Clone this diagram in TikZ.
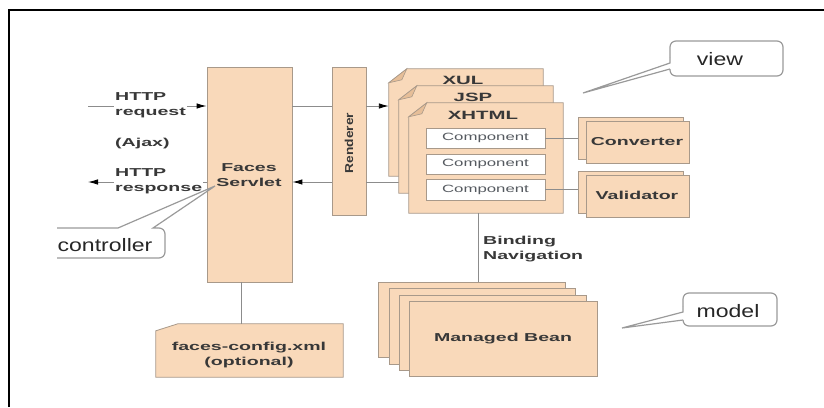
\documentclass[tikz,border=0pt]{standalone}
\usepackage{fontspec}
\setmainfont{Liberation Sans}
\usepackage{graphicx}
\usetikzlibrary{arrows.meta,fit}

\definecolor{peach}{HTML}{F9D9BA}
\definecolor{peachfold}{HTML}{E6BE98}
\definecolor{edge}{HTML}{A8998A}
\definecolor{wiregray}{HTML}{8C8C8C}
\definecolor{ink}{HTML}{383838}
\definecolor{compink}{HTML}{555A60}
\definecolor{callgray}{HTML}{9A9A9A}

\newcommand{\mainfs}{\bfseries\fontsize{11.5}{15}\selectfont}
\newcommand{\sx}[2]{\scalebox{#1}[1]{#2}}
\newcommand{\wl}[2]{\scalebox{#1}[1]{\begin{tabular}{@{}l@{}}#2\end{tabular}}}
\newcommand{\wc}[2]{\scalebox{#1}[1]{\begin{tabular}{@{}c@{}}#2\end{tabular}}}

% page with a dog-eared top-left corner, drawn round a fitted node
\newcommand{\dogpage}[1]{%
  \filldraw[draw=edge, fill=peach, line width=0.8pt]
    ([yshift=-14pt]#1.north west) -- ([xshift=18pt]#1.north west)
    -- (#1.north east) -- (#1.south east) -- (#1.south west) -- cycle;
  \filldraw[draw=edge, fill=peachfold, line width=0.6pt]
    ([yshift=-14pt]#1.north west) -- ([xshift=18pt]#1.north west)
    -- ([xshift=13pt,yshift=-11pt]#1.north west) -- cycle;}

\begin{document}
\begin{tikzpicture}[x=1pt,y=1pt,
  box/.style={draw=edge, fill=peach, line width=0.8pt, inner sep=0pt},
  compbox/.style={draw=edge, fill=white, line width=0.8pt, inner sep=0pt},
  wire/.style={draw=wiregray, line width=0.9pt},
  arrowhd/.style={-{Latex[length=10pt,width=5.5pt,black]}},
  lbl/.style={text=ink, font=\mainfs, inner sep=0pt},
  pagelbl/.style={text=ink, font=\bfseries\fontsize{12}{14}\selectfont, inner sep=0pt},
  complbl/.style={text=compink, font=\fontsize{10.5}{12}\selectfont, inner sep=0pt},
  callout/.style={draw=callgray, line width=1.2pt},
  calltext/.style={text=black!85, font=\fontsize{18}{20}\selectfont, inner sep=0pt},
]
\useasboundingbox (0,0) rectangle (824,-407);

% frame
\draw[line width=2pt] (9,-407) -- (9,-10) -- (824,-10);

% servlet and renderer
\node[box, fit={(207,-67) (292,-282)}] (servlet) {};
\node[box, fit={(332,-67) (366,-215)}] (renderer) {};

% page outlines (filled later, after the wires)
\node[inner sep=0pt, fit={(389,-69) (543,-176)}] (xul) {};
\node[inner sep=0pt, fit={(399,-86) (553,-193)}] (jsp) {};
\node[inner sep=0pt, fit={(409,-103) (563,-213)}] (xhtml) {};

% request / response wires
\coordinate (yreq) at (0,-106);
\coordinate (yresp) at (0,-182);
\coordinate (reqsrc) at (88,-106);
\coordinate (respdst) at (88,-182);
\draw[wire, arrowhd] (reqsrc) -- (servlet.west |- yreq);
\draw[wire, arrowhd] (servlet.west |- yresp) -- (respdst);
\draw[wire] (servlet.east |- yreq) -- (renderer.west |- yreq);
\draw[wire, arrowhd] (renderer.east |- yreq) -- (xul.west |- yreq);
\draw[wire] (jsp.west |- yresp) -- (renderer.east |- yresp);
\draw[wire, arrowhd] (renderer.west |- yresp) -- (servlet.east |- yresp);

% stacked pages
\dogpage{xul}
\dogpage{jsp}
\dogpage{xhtml}
\node[pagelbl] (xullbl) at (463,-80) {\sx{1.7}{XUL}};
\node[pagelbl] (jsplbl) at (473,-97) {\sx{1.7}{JSP}};
\node[pagelbl] (xhtmllbl) at (483,-115) {\sx{1.7}{XHTML}};

% components
\node[compbox, fit={(426,-128) (545,-148)}] (c1) {};
\node[compbox, fit={(426,-154) (545,-174)}] (c2) {};
\node[compbox, fit={(426,-179) (545,-200)}] (c3) {};
\node[complbl] (c1lbl) at (c1.center) {\sx{1.6}{Component}};
\node[complbl] (c2lbl) at (c2.center) {\sx{1.6}{Component}};
\node[complbl] (c3lbl) at (c3.center) {\sx{1.6}{Component}};

% converter and validator
\node[box, fit={(578,-117) (683,-159)}] (convback) {};
\node[box, fit={(586,-121) (689,-163)}] (conv) {};
\node[box, fit={(578,-171) (683,-213)}] (valback) {};
\node[box, fit={(586,-175) (689,-217)}] (val) {};
\node[lbl] (convlbl) at (637,-142) {\sx{1.7}{Converter}};
\node[lbl] (vallbl) at (637,-195) {\sx{1.7}{Validator}};
\draw[wire] (c1.east) -- (convback.west |- c1.east);
\draw[wire] (c3.east) -- (valback.west |- c3.east);

% managed beans
\node[box, fit={(378,-282) (565,-357)}] (bean4) {};
\node[box, fit={(389,-288) (575,-364)}] (bean3) {};
\node[box, fit={(399,-295) (586,-370)}] (bean2) {};
\node[box, fit={(409,-301) (597,-376)}] (bean) {};
\node[lbl] (beanlbl) at (503,-339) {\sx{1.7}{Managed Bean}};
\coordinate (bx) at (478,0);
\draw[wire] (xhtml.south -| bx) -- (bean4.north -| bx);
\node[lbl, anchor=west] (bindlbl) at (483,-249) {\wl{1.7}{Binding\\Navigation}};

% faces-config note
\node[inner sep=0pt, fit={(156,-324) (343,-377)}] (config) {};
\filldraw[draw=edge, fill=peach, line width=0.8pt]
  ([yshift=-7pt]config.north west) -- ([xshift=22pt]config.north west)
  -- (config.north east) -- (config.south east) -- (config.south west) -- cycle;
\node[lbl] (configlbl) at (249,-355) {\wc{1.7}{faces-config.xml\\(optional)}};
\coordinate (cx) at (241,0);
\draw[wire] (servlet.south -| cx) -- (config.north -| cx);

% texts
\node[lbl, fill=white, inner sep=1pt, anchor=west] (reqlbl) at (114,-105) {\wl{1.7}{HTTP\\request}};
\node[lbl, anchor=west] (ajaxlbl) at (115,-144) {\sx{1.7}{(Ajax)}};
\node[lbl, fill=white, inner sep=1pt, anchor=west] (resplbl) at (114,-181) {\wl{1.7}{HTTP\\response}};
\node[lbl] (servletlbl) at (249,-176) {\wc{1.7}{Faces\\Servlet}};
\node[lbl, rotate=90] (rendlbl) at (349,-143) {\sx{1.2}{Renderer}};

% callouts
\draw[callout, rounded corners=6pt] (670,-57) -- (670,-41) -- (783,-41) -- (783,-76) -- (670,-76) -- (670,-69);
\draw[callout] (670,-57) -- (670,-63) -- (583,-93) -- (670,-69);
\node[calltext] (viewlbl) at (720,-59) {\sx{1.28}{view}};

\draw[callout, rounded corners=6pt] (683,-306) -- (683,-293) -- (777,-293) -- (777,-326) -- (683,-326) -- (683,-320);
\draw[callout] (683,-306) -- (683,-312) -- (622,-328) -- (683,-320);
\node[calltext] (modellbl) at (728,-311) {\sx{1.28}{model}};

\draw[callout] (57,-228) -- (118,-228) -- (215,-186) -- (153,-228) -- (157,-228);
\draw[callout, rounded corners=6pt] (157,-228) -- (165,-228) -- (165,-258) -- (57,-258);
\node[calltext] (ctrllbl) at (105,-245) {\sx{1.28}{controller}};
\end{tikzpicture}
\end{document}
